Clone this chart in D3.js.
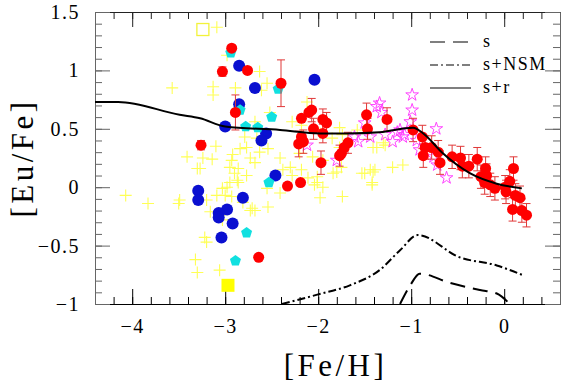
<!DOCTYPE html>
<html>
<head>
<meta charset="utf-8">
<script src="https://cdn.jsdelivr.net/npm/d3@7"></script>
<style>
  body { margin: 0; background: #fff; }
</style>
</head>
<body>
<div id="chart"></div>
<script>
// [Fe/H], [Eu/Fe], error
var redPts = [
  [-2.93, 1.19, 0], [-3.03, 0.99, 0.04], [-2.76, 1.00, 0], [-2.40, 0.89, 0.20],
  [-2.89, 0.64, 0.15], [-3.26, 0.36, 0.04], [-2.64, -0.60, 0], [-2.33, 0.01, 0],
  [-2.19, 0.04, 0], [-2.07, 0.66, 0.10], [-2.10, 0.64, 0], [-2.18, 0.59, 0],
  [-1.95, 0.58, 0.09], [-1.91, 0.55, 0.09], [-2.05, 0.50, 0.09], [-2.18, 0.43, 0],
  [-1.95, 0.46, 0.08], [-2.16, 0.39, 0.10], [-2.21, 0.37, 0.11], [-1.68, 0.38, 0.09],
  [-1.72, 0.34, 0], [-1.75, 0.29, 0], [-1.77, 0.27, 0.09], [-1.97, 0.21, 0.10],
  [-1.48, 0.62, 0.10], [-1.47, 0.50, 0.09], [-1.26, 0.58, 0.10],
  [-0.98, 0.49, 0.10], [-0.88, 0.43, 0.10], [-0.85, 0.34, 0.10], [-0.78, 0.34, 0.10],
  [-0.71, 0.30, 0.10], [-0.87, 0.27, 0.10], [-0.69, 0.21, 0.10], [-0.56, 0.26, 0.10],
  [-0.47, 0.25, 0.10], [-0.45, 0.18, 0.10], [-0.38, 0.18, 0.10], [-0.29, 0.24, 0.10],
  [-0.20, 0.16, 0.10], [-0.19, 0.10, 0.10], [-0.25, 0.09, 0.10], [-0.21, 0.04, 0.10],
  [-0.15, 0.02, 0.10], [-0.10, -0.01, 0.10], [0.01, 0.00, 0.10], [0.02, -0.04, 0.10],
  [0.06, 0.05, 0.10], [0.10, 0.16, 0.10], [0.12, -0.07, 0.10], [0.17, -0.09, 0.10],
  [0.09, -0.19, 0.10], [0.19, -0.20, 0.10], [0.24, -0.24, 0.10]
];
var bluePts = [
  [-2.85, 1.04], [-2.04, 0.92], [-2.68, 0.85], [-2.85, 0.71], [-3.00, 0.52],
  [-2.56, 0.46], [-2.61, 0.40], [-2.46, 0.10], [-3.29, -0.03], [-3.29, -0.11],
  [-2.81, -0.09], [-2.98, -0.19], [-3.07, -0.22], [-3.07, -0.26], [-2.92, -0.31],
  [-3.04, -0.43]
];
var cyanPts = [
  [-2.94, 1.15], [-2.43, 0.84], [-2.84, 0.66], [-2.50, 0.60], [-2.78, 0.52],
  [-2.65, 0.51], [-2.53, 0.04], [-2.77, -0.39], [-2.89, -0.63]
];
var starPts = [
  [-2.12, 0.36], [-1.80, 0.23], [-1.61, 0.43], [-1.57, 0.39], [-1.50, 0.55],
  [-1.44, 0.43], [-1.37, 0.69], [-1.34, 0.72], [-1.32, 0.64], [-1.28, 0.45],
  [-1.20, 0.39], [-1.15, 0.47], [-1.09, 0.43], [-1.01, 0.56], [-0.99, 0.79],
  [-0.99, 0.66], [-1.07, 0.45], [-0.94, 0.40], [-0.91, 0.32], [-0.76, 0.26],
  [-0.73, 0.50], [-0.72, 0.19], [-0.62, 0.08], [-1.12, 0.49]
];
var crossPts = [
  [-4.07, -0.07], [-3.83, -0.14], [-3.50, -0.14], [-3.57, 0.85], [-3.41, 0.26],
  [-3.30, 0.16], [-3.32, -0.62], [-3.30, -0.73], [-3.09, 1.37], [-2.98, 1.13],
  [-2.63, 0.99], [-2.55, 0.89], [-2.61, 0.83], [-3.13, 0.79], [-2.89, 0.85],
  [-2.52, 0.64], [-2.68, 0.56], [-2.28, 0.56], [-2.12, 0.73], [-2.18, 0.53],
  [-1.98, 0.46], [-1.85, 0.42], [-1.74, 0.45], [-1.58, 0.49], [-1.77, 0.51],
  [-3.10, 0.35], [-3.24, 0.25], [-3.27, 0.16], [-3.14, 0.24], [-2.93, 0.23],
  [-2.84, 0.33], [-2.77, 0.34], [-2.79, 0.43], [-2.66, 0.42], [-2.63, 0.30],
  [-2.54, 0.33], [-2.73, 0.25], [-2.68, 0.21], [-2.86, 0.16], [-2.90, 0.12],
  [-2.77, 0.10], [-2.86, 0.04], [-2.95, 0.04], [-2.98, 0.00], [-3.09, -0.07],
  [-3.00, -0.07], [-2.93, -0.08], [-3.20, -0.11], [-3.16, -0.21], [-2.81, -0.13],
  [-2.73, -0.20], [-2.68, -0.20], [-2.54, -0.17], [-2.41, -0.05], [-2.38, 0.15],
  [-2.28, 0.10], [-2.55, -0.01], [-3.06, -0.24], [-3.03, -0.28], [-3.22, -0.43],
  [-3.20, -0.47], [-3.06, -0.71], [-2.41, 0.25], [-2.30, 0.17], [-2.20, 0.29],
  [-2.06, 0.26], [-2.01, 0.09], [-1.95, 0.00], [-1.80, 0.13], [-1.75, 0.17],
  [-1.77, 0.34], [-1.53, 0.12], [-1.41, 0.13], [-1.42, 0.04], [-1.37, 0.34],
  [-2.95, 0.17], [-2.92, 0.28], [-2.87, 0.06], [-3.03, -0.01], [-3.13, 0.86],
  [-2.18, 0.15], [-2.11, 0.08], [-2.01, 0.04], [-1.84, 0.12], [-1.98, -0.09],
  [-1.74, -0.08], [-1.50, 0.12], [-1.44, 0.15], [-1.42, 0.02], [-1.20, 0.17],
  [-1.09, 0.19], [-1.28, 0.36], [-1.95, 0.23], [-3.49, -0.11], [-2.71, -0.18],
  [-2.04, 0.02], [-1.41, 0.34], [-1.30, 0.38], [-1.39, 0.15]
];
var openSquare = [[-3.24, 1.35]];
var filledSquare = [[-2.97, -0.84]];

// model curves
var curveS = [
  [-1.12, -1.0], [-1.01, -0.84], [-0.91, -0.74], [-0.58, -0.82],
  [-0.26, -0.88], [-0.08, -0.91], [0.06, -1.0]
];
var curveNSM = [
  [-2.39, -1.0], [-2.01, -0.92], [-1.66, -0.84], [-1.34, -0.71], [-1.12, -0.54],
  [-0.93, -0.41], [-0.48, -0.60], [-0.08, -0.67], [0.19, -0.75]
];
var curveSR = [
  [-4.4, 0.73], [-4.15, 0.73], [-3.49, 0.62], [-3.27, 0.59], [-3.00, 0.52],
  [-2.41, 0.49], [-1.98, 0.46], [-1.69, 0.46], [-1.34, 0.47], [-0.98, 0.51],
  [-0.87, 0.46], [-0.66, 0.29], [-0.37, 0.12], [-0.08, 0.03], [0.19, -0.01]
];

var legendLabels = ["s", "s+NSM", "s+r"];
var legendDash = ["15,8", "8,3,2,3", null];

var xMajor = [-4, -3, -2, -1, 0];
var yMajor = [-1, -0.5, 0, 0.5, 1, 1.5];

var serif = "'Liberation Serif', 'Times New Roman', Times, serif";

var width = 570, height = 387;
var margin = {top: 12, right: 10, bottom: 83, left: 95};

var svg = d3.select("#chart").append("svg")
    .attr("width", width)
    .attr("height", height)
    .attr("font-family", serif);

var x = d3.scaleLinear().domain([-4.4, 0.6]).range([margin.left, width - margin.right]);
var y = d3.scaleLinear().domain([-1, 1.5]).range([height - margin.bottom, margin.top]);

var xMinor = d3.range(-4.4, 0.61, 0.2).map(function(v) { return +v.toFixed(1); });
var yMinor = d3.range(-1, 1.51, 0.1).map(function(v) { return +v.toFixed(1); });

function fmt(v) { return v < 0 ? "\u2212" + Math.abs(v) : "" + v; }

svg.append("clipPath").attr("id", "clip")
  .append("rect")
    .attr("x", x.range()[0]).attr("y", y.range()[1])
    .attr("width", x.range()[1] - x.range()[0])
    .attr("height", y.range()[0] - y.range()[1]);

// axes: minor + major, all four sides, ticks inward
function drawAxis(axis, tx, ty, color, labels) {
  var g = svg.append("g")
      .attr("transform", "translate(" + tx + "," + ty + ")")
      .call(axis);
  g.attr("font-family", serif).attr("font-size", 20);
  g.select(".domain").attr("stroke", color);
  g.selectAll(".tick line").attr("stroke", color);
  if (labels) {
    g.selectAll(".tick text")
      .attr("font-family", serif)
      .style("letter-spacing", "1.5px")
      .attr("fill", "#000");
  } else {
    g.selectAll(".tick text").remove();
  }
  return g;
}

var y0 = y.range()[0], y1 = y.range()[1], x0 = x.range()[0], x1 = x.range()[1];

drawAxis(d3.axisBottom(x).tickValues(xMinor).tickSize(-7).tickSizeOuter(0), 0, y0, "#000", false);
drawAxis(d3.axisBottom(x).tickValues(xMajor).tickSize(-15).tickSizeOuter(0).tickPadding(15).tickFormat(fmt), 0, y0, "#000", true);
drawAxis(d3.axisTop(x).tickValues(xMinor).tickSize(-7).tickSizeOuter(0), 0, y1, "#222", false);
drawAxis(d3.axisTop(x).tickValues(xMajor).tickSize(-15).tickSizeOuter(0), 0, y1, "#222", false);
drawAxis(d3.axisLeft(y).tickValues(yMinor).tickSize(-7).tickSizeOuter(0), x0, 0, "#666", false);
drawAxis(d3.axisLeft(y).tickValues(yMajor).tickSize(-15).tickSizeOuter(0).tickPadding(15).tickFormat(fmt), x0, 0, "#666", true);
drawAxis(d3.axisRight(y).tickValues(yMinor).tickSize(-7).tickSizeOuter(0), x1, 0, "#666", false);
drawAxis(d3.axisRight(y).tickValues(yMajor).tickSize(-15).tickSizeOuter(0), x1, 0, "#666", false);

// axis titles
svg.append("text")
    .attr("x", (x0 + x1) / 2 + 8)
    .attr("y", 376)
    .attr("text-anchor", "middle")
    .attr("font-family", serif)
    .attr("font-size", 31)
    .style("letter-spacing", "3.5px")
    .text("[Fe/H]");

svg.append("text")
    .attr("transform", "translate(33," + 158 + ") rotate(-90)")
    .attr("text-anchor", "middle")
    .attr("font-family", serif)
    .attr("font-size", 31)
    .style("letter-spacing", "3.5px")
    .text("[Eu/Fe]");

var plot = svg.append("g").attr("clip-path", "url(#clip)");

// yellow crosses
plot.append("g").selectAll("path")
  .data(crossPts)
  .enter().append("path")
    .attr("transform", function(d) { return "translate(" + x(d[0]) + "," + y(d[1]) + ")"; })
    .attr("d", "M-6,0H6M0,-6V6")
    .attr("stroke", "#ffff55")
    .attr("stroke-width", 1.1)
    .attr("fill", "none");

// yellow squares
plot.append("g").selectAll("rect")
  .data(openSquare)
  .enter().append("rect")
    .attr("x", function(d) { return x(d[0]) - 6; })
    .attr("y", function(d) { return y(d[1]) - 6; })
    .attr("width", 12).attr("height", 12)
    .attr("fill", "none")
    .attr("stroke", "#f2f23a")
    .attr("stroke-width", 1.3);

plot.append("g").selectAll("rect")
  .data(filledSquare)
  .enter().append("rect")
    .attr("x", function(d) { return x(d[0]) - 6.5; })
    .attr("y", function(d) { return y(d[1]) - 6.5; })
    .attr("width", 13).attr("height", 13)
    .attr("fill", "#ffff00");

// magenta open stars
var star = d3.symbol().type(d3.symbolStar).size(50);
plot.append("g").selectAll("path")
  .data(starPts)
  .enter().append("path")
    .attr("transform", function(d) { return "translate(" + x(d[0]) + "," + y(d[1]) + ")"; })
    .attr("d", star)
    .attr("fill", "none")
    .attr("stroke", "#ff44ff")
    .attr("stroke-width", 1);

// blue circles
plot.append("g").selectAll("circle")
  .data(bluePts)
  .enter().append("circle")
    .attr("cx", function(d) { return x(d[0]); })
    .attr("cy", function(d) { return y(d[1]); })
    .attr("r", 6)
    .attr("fill", "#0a0fd0");

// cyan pentagons
var pent = d3.range(5).map(function(i) {
  var a = -Math.PI / 2 + i * 2 * Math.PI / 5;
  return [5.8 * Math.cos(a), 5.8 * Math.sin(a)];
});
plot.append("g").selectAll("path")
  .data(cyanPts)
  .enter().append("path")
    .attr("transform", function(d) { return "translate(" + x(d[0]) + "," + y(d[1]) + ")"; })
    .attr("d", d3.line()(pent) + "Z")
    .attr("fill", "#11e0e0");

// red error bars
var errs = plot.append("g")
    .attr("stroke", "#e03838")
    .attr("stroke-width", 1)
    .attr("fill", "none");
errs.selectAll("path")
  .data(redPts.filter(function(d) { return d[2] > 0; }))
  .enter().append("path")
    .attr("d", function(d) {
      var cx = x(d[0]), lo = y(d[1] - d[2]), hi = y(d[1] + d[2]);
      return "M" + cx + "," + lo + "V" + hi +
             "M" + (cx - 4) + "," + lo + "H" + (cx + 4) +
             "M" + (cx - 4) + "," + hi + "H" + (cx + 4);
    });

// red circles
plot.append("g").selectAll("circle")
  .data(redPts)
  .enter().append("circle")
    .attr("cx", function(d) { return x(d[0]); })
    .attr("cy", function(d) { return y(d[1]); })
    .attr("r", 5.5)
    .attr("fill", "#ff0000");

// model curves
var line = d3.line()
    .x(function(d) { return x(d[0]); })
    .y(function(d) { return y(d[1]); })
    .curve(d3.curveMonotoneX);

[curveS, curveNSM, curveSR].forEach(function(c, i) {
  plot.append("path")
    .datum(c)
    .attr("d", line)
    .attr("fill", "none")
    .attr("stroke", "#000")
    .attr("stroke-width", 2)
    .attr("stroke-dasharray", legendDash[i]);
});

// legend
var leg = svg.append("g");
legendLabels.forEach(function(lab, i) {
  var ly = 42 + i * 23;
  leg.append("line")
    .attr("x1", 430).attr("x2", 471)
    .attr("y1", ly).attr("y2", ly)
    .attr("stroke", "#000")
    .attr("stroke-width", 1.2)
    .attr("stroke-dasharray", legendDash[i]);
  leg.append("text")
    .attr("x", 483)
    .attr("y", ly + 5)
    .attr("font-family", serif)
    .attr("font-size", 18)
    .style("letter-spacing", "1.5px")
    .text(lab);
});
</script>
</body>
</html>
